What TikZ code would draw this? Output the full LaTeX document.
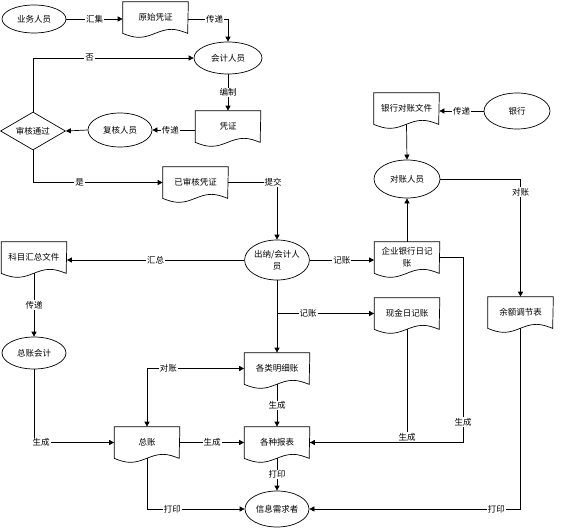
\documentclass[tikz,border=0pt]{standalone}
\usepackage{fontspec}
\setmainfont{Noto Sans CJK SC}
\usetikzlibrary{shapes.geometric,arrows.meta,calc}
\newcommand\docshape[1]{\draw (#1.south west) sin ++(16.25pt,-4pt) cos ++(16.25pt,4pt) sin ++(16.25pt,4pt) cos ++(16.25pt,-4pt) -- (#1.north east) -- (#1.north west) -- cycle;}
\begin{document}
\begin{tikzpicture}[x=1pt,y=-1pt, line width=0.7pt,
  every node/.style={font=\fontsize{8.5}{12}\selectfont},
  ell/.style={ellipse,draw,inner sep=0pt},
  docu/.style={rectangle,minimum width=65pt,minimum height=31pt,inner sep=1pt,align=center},
  arr/.style={-{Triangle[length=5pt,width=5pt]}},
  darr/.style={{Triangle[length=5pt,width=5pt]}-{Triangle[length=5pt,width=5pt]}},
  lbl/.style={fill=white,inner sep=1pt}]
\useasboundingbox (0,0) rectangle (565,530);
% nodes
\node[ell,minimum width=64pt,minimum height=28pt] (ywry) at (34,19) {业务人员};
\node[docu] (yscd) at (155.5,17.5) {原始凭证};
\node[ell,minimum width=68pt,minimum height=32pt] (kjry) at (228,58) {会计人员};
\node[docu] (pz) at (228,126.5) {凭证};
\node[ell,minimum width=64pt,minimum height=34pt] (fhry) at (120,130) {复核人员};
\node[diamond,draw,aspect=1.7,minimum width=65pt,minimum height=38pt,inner sep=0pt] (shtg) at (33,131) {审核通过};
\node[docu] (ysh) at (195.5,182.5) {已审核凭证};
\node[ell,minimum width=64pt,minimum height=40pt,align=center] (cn) at (277,260) {出纳/会计人\\员};
\node[docu] (kmhz) at (34,257.5) {科目汇总文件};
\node[ell,minimum width=64pt,minimum height=32pt] (zzkj) at (34,353) {总账会计};
\node[docu] (qyyh) at (407,257.5) {企业银行日记\\账};
\node[docu] (yhdz) at (406.5,108.5) {银行对账文件};
\node[ell,minimum width=66pt,minimum height=36pt] (yh) at (517,111) {银行};
\node[ell,minimum width=66pt,minimum height=38pt] (dzry) at (407,179) {对账人员};
\node[docu] (xj) at (407,313.5) {现金日记账};
\node[docu] (yetj) at (520.5,312.5) {余额调节表};
\node[docu] (mx) at (277,368.5) {各类明细账};
\node[docu] (bb) at (277,442.5) {各种报表};
\node[docu] (zz) at (147,442.5) {总账};
\node[ell,minimum width=64pt,minimum height=36pt] (xxxq) at (277,509) {信息需求者};
\foreach \d in {yscd,pz,ysh,kmhz,qyyh,yhdz,xj,yetj,mx,bb,zz} {\docshape{\d}}
\coordinate (gc) at (463,442.5);
% connectors
\draw[arr] (ywry.east) -- node[lbl]{汇集} (ywry.east -| yscd.west);
\draw[arr] (yscd.east |- ywry.east) -| node[lbl,pos=0.33]{传递} (kjry.north);
\draw[arr] (shtg.north) |- node[lbl,pos=0.676]{否} (kjry.west);
\draw[arr] (kjry.south) -- node[lbl]{编制} (pz.north);
\draw[arr] (pz.west |- fhry.east) -- node[lbl,pos=0.58]{传递} (fhry.east);
\draw[arr] (fhry.west) -- (shtg.east);
\draw[arr] (shtg.south) |- node[lbl,pos=0.68]{是} (ysh.west);
\draw[arr] (ysh.east) -| node[lbl,pos=0.46]{提交} (cn.north);
\draw[arr] (cn.west) -- node[lbl]{汇总} (kmhz.east |- cn.west);
\draw[arr] (kmhz.south) -- node[lbl]{传递} (zzkj.north);
\draw[arr] (zzkj.south) |- node[lbl,pos=0.544]{生成} (zz.west);
\draw[darr] (zz.north) |- node[lbl,pos=0.61]{对账} (mx.west);
\draw[arr] (zz.east) -- node[lbl]{生成} (bb.west);
\draw[arr] (zz.south) |- node[lbl,pos=0.63]{打印} (xxxq.west);
\draw[arr] (mx.south) -- node[lbl]{生成} (bb.north);
\draw[arr] (bb.south) -- node[lbl]{打印} (xxxq.north);
\draw[arr] (cn.south) -- (mx.north);
\draw[arr] (cn.south |- xj.west) -- node[lbl,pos=0.32]{记账} (xj.west);
\draw[arr] (cn.east) -- node[lbl]{记账} (cn.east -| qyyh.west);
\draw[arr] (qyyh.north) -- (dzry.south);
\draw[arr] (yhdz.south) -- (dzry.north);
\draw[arr] (yh.west) -- node[lbl]{传递} (yh.west -| yhdz.east);
\draw[arr] (dzry.east) -| node[lbl,pos=0.555]{对账} (yetj.north);
\draw (xj.south) |- node[lbl,pos=0.5,anchor=south]{生成} (bb.east);
\draw[arr] (qyyh.east) -| node[lbl,pos=0.945]{生成} (gc) -- (bb.east);
\draw[arr] (yetj.south) |- node[lbl,pos=0.557]{打印} (xxxq.east);
\end{tikzpicture}
\end{document}
